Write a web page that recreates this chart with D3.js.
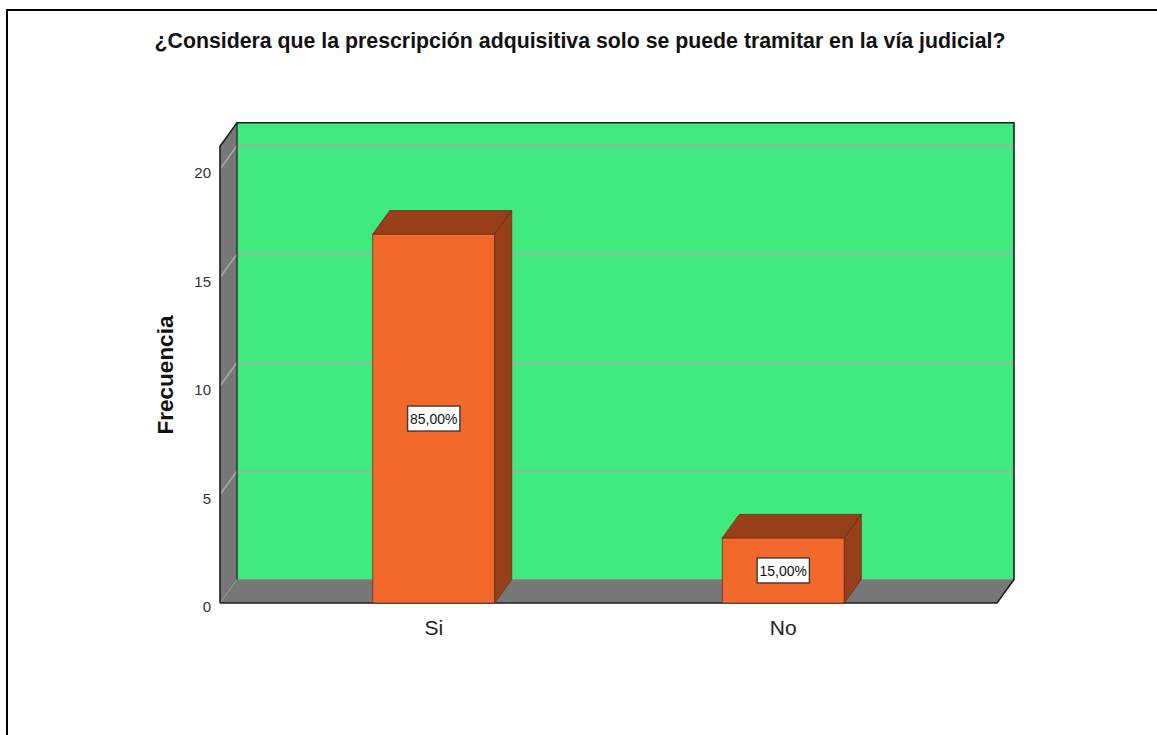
<!DOCTYPE html>
<html>
<head>
<meta charset="utf-8">
<script src="https://cdn.jsdelivr.net/npm/d3@7"></script>
<style>
  html, body { margin: 0; padding: 0; background: #ffffff; }
  svg { display: block; }
  text { font-family: "Liberation Sans", Arial, sans-serif; }
</style>
</head>
<body>
<svg id="chart" width="1157" height="735"></svg>
<script>
// Survey answers and their counts
const categories = ["Si", "No"];
const counts = [17, 3];
const yTicks = [0, 5, 10, 15, 20];
const chartTitle = "¿Considera que la prescripción adquisitiva solo se puede tramitar en la vía judicial?";
const yTitle = "Frecuencia";

const total = d3.sum(counts);
const data = categories.map((c, i) => ({ cat: c, value: counts[i], pct: counts[i] / total * 100 }));

const svg = d3.select("#chart");
const W = 1157, H = 735;

// Outer frame
svg.append("rect")
  .attr("x", 7).attr("y", 10).attr("width", W + 20).attr("height", H + 20)
  .attr("fill", "#fff").attr("stroke", "#000").attr("stroke-width", 2);

// Plot geometry (front plane) and 3D depth offset
const x0 = 220, x1 = 997, yBase = 603, yTop20 = 169;
const DX = 17, DY = -23.5;
const wallMax = 21.05;

const y = d3.scaleLinear().domain([0, 20]).range([yBase, yTop20]);
const x = d3.scaleBand().domain(categories).range([x0, x1])
  .paddingInner(0.651).paddingOuter(0.437);

const wallColor = "#777777";
const edge = "#1e1e1e";
const green = "#41ea7e";
const orange = "#f2692b";
const brown = "#963f1a";

const pts = a => a.map(p => p.join(",")).join(" ");

// Back wall
svg.append("rect")
  .attr("x", x0 + DX).attr("y", y(wallMax) + DY)
  .attr("width", x1 - x0).attr("height", y(0) - y(wallMax))
  .attr("fill", green);

// Left wall
svg.append("polygon")
  .attr("points", pts([[x0, y(0)], [x0, y(wallMax)], [x0 + DX, y(wallMax) + DY], [x0 + DX, y(0) + DY]]))
  .attr("fill", wallColor);

// Floor
svg.append("polygon")
  .attr("points", pts([[x0, y(0)], [x1, y(0)], [x1 + DX, y(0) + DY], [x0 + DX, y(0) + DY]]))
  .attr("fill", wallColor);

// Gridlines: back wall horizontals and left wall diagonals
const grid = svg.append("g").attr("stroke", "#a9a9a9").attr("stroke-width", 1.5).attr("fill", "none");
yTicks.filter(t => t > 0).forEach(t => {
  grid.append("line")
    .attr("x1", x0 + DX).attr("x2", x1 + DX)
    .attr("y1", y(t) + DY).attr("y2", y(t) + DY);
  grid.append("line")
    .attr("x1", x0 + DX).attr("y1", y(t) + DY)
    .attr("x2", x0).attr("y2", y(t));
});
// Corner where floor meets the walls
grid.append("line")
  .attr("x1", x0 + DX).attr("y1", y(0) + DY).attr("x2", x0).attr("y2", y(0))
  .attr("stroke", "#9a9a9a").attr("stroke-width", 1);
grid.append("line")
  .attr("x1", x0 + DX).attr("y1", y(0) + DY).attr("x2", x1 + DX).attr("y2", y(0) + DY)
  .attr("stroke", "#8c8c8c").attr("stroke-width", 1);

// Dark edges of the box
const edges = svg.append("g").attr("stroke", edge).attr("stroke-width", 1.6).attr("fill", "none");
edges.append("polyline").attr("points", pts([
  [x0, y(0)], [x0, y(wallMax)], [x0 + DX, y(wallMax) + DY], [x1 + DX, y(wallMax) + DY],
  [x1 + DX, y(0) + DY], [x1, y(0)], [x0, y(0)]
]));
edges.append("line")
  .attr("x1", x0 + DX).attr("x2", x0 + DX)
  .attr("y1", y(wallMax) + DY).attr("y2", y(0) + DY)
  .attr("stroke-width", 1.2);

// Bars
const bars = svg.append("g").selectAll("g").data(data).join("g");
bars.append("rect")
  .attr("x", d => x(d.cat)).attr("y", d => y(d.value))
  .attr("width", x.bandwidth()).attr("height", d => y(0) - y(d.value))
  .attr("fill", orange).attr("stroke", "#6b3315").attr("stroke-width", 0.8);
bars.append("polygon")
  .attr("points", d => {
    const a = x(d.cat), b = a + x.bandwidth(), t = y(d.value);
    return pts([[a, t], [b, t], [b + DX, t + DY], [a + DX, t + DY]]);
  })
  .attr("fill", brown).attr("stroke", "#6b2e12").attr("stroke-width", 0.8);
bars.append("polygon")
  .attr("points", d => {
    const b = x(d.cat) + x.bandwidth(), t = y(d.value);
    return pts([[b, t], [b + DX, t + DY], [b + DX, y(0) + DY], [b, y(0)]]);
  })
  .attr("fill", brown).attr("stroke", "#6b2e12").attr("stroke-width", 0.8);

// Percentage labels in boxes
const fmt = v => d3.format(".2f")(v).replace(".", ",") + "%";
bars.each(function(d) {
  const g = d3.select(this);
  const cx = x(d.cat) + x.bandwidth() / 2;
  const cy = (y(d.value) + y(0)) / 2;
  const box = g.append("rect").attr("fill", "#fff").attr("stroke", "#3a3a3a").attr("stroke-width", 1.4);
  const t = g.append("text")
    .attr("x", cx).attr("y", cy + 5.5)
    .attr("text-anchor", "middle")
    .attr("font-size", 15.5).attr("fill", "#111")
    .attr("transform", `translate(${cx},0) scale(0.9,1) translate(${-cx},0)`)
    .text(fmt(d.pct));
  const w = t.node().getComputedTextLength() * 0.9 + 5;
  box.attr("x", cx - w / 2).attr("y", cy - 12.5).attr("width", w).attr("height", 25);
});

// Y tick labels
svg.append("g").selectAll("text").data(yTicks).join("text")
  .attr("x", 211).attr("y", d => y(d) + 9)
  .attr("text-anchor", "end")
  .attr("font-size", 15).attr("fill", "#333")
  .text(d => d);

// Category labels
svg.append("g").selectAll("text").data(categories).join("text")
  .attr("x", d => x(d) + x.bandwidth() / 2).attr("y", 635)
  .attr("text-anchor", "middle")
  .attr("font-size", 21).attr("fill", "#222")
  .text(d => d);

// Axis title
svg.append("text")
  .attr("transform", "translate(173,375) rotate(-90)")
  .attr("text-anchor", "middle")
  .attr("font-size", 22.5).attr("font-weight", "bold").attr("fill", "#111")
  .text(yTitle);

// Chart title
svg.append("text")
  .attr("x", 580).attr("y", 48)
  .attr("text-anchor", "middle")
  .attr("font-size", 21.3).attr("font-weight", "bold").attr("fill", "#111")
  .text(chartTitle);
</script>
</body>
</html>
